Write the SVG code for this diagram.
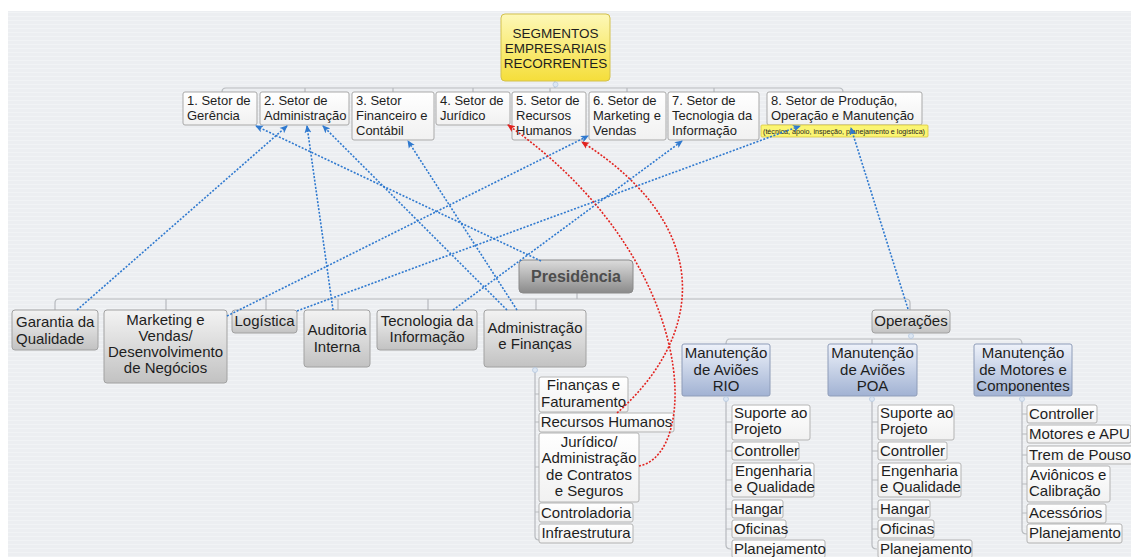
<svg xmlns="http://www.w3.org/2000/svg" width="1131" height="557" viewBox="0 0 1131 557">
  <defs>
    <pattern id="bgLines" width="8" height="4" patternUnits="userSpaceOnUse">
      <rect width="8" height="4" fill="#eceef1"/>
      <rect y="0" width="8" height="1" fill="#f1f3f5"/>
    </pattern>
    <linearGradient id="gYellow" x1="0" y1="0" x2="0" y2="1">
      <stop offset="0" stop-color="#fdf8b8"/>
      <stop offset="1" stop-color="#f5de3a"/>
    </linearGradient>
    <linearGradient id="gWhite" x1="0" y1="0" x2="0" y2="1">
      <stop offset="0" stop-color="#ffffff"/>
      <stop offset="1" stop-color="#f1f1f1"/>
    </linearGradient>
    <linearGradient id="gGray" x1="0" y1="0" x2="0" y2="1">
      <stop offset="0" stop-color="#f3f3f3"/>
      <stop offset="1" stop-color="#c2c2c2"/>
    </linearGradient>
    <linearGradient id="gDark" x1="0" y1="0" x2="0" y2="1">
      <stop offset="0" stop-color="#dcdcdc"/>
      <stop offset="1" stop-color="#8a8a8a"/>
    </linearGradient>
    <linearGradient id="gBlue" x1="0" y1="0" x2="0" y2="1">
      <stop offset="0" stop-color="#eef2fa"/>
      <stop offset="1" stop-color="#a1b2d3"/>
    </linearGradient>
    <marker id="arrBlue" viewBox="0 0 8 8" refX="7" refY="4" markerWidth="8" markerHeight="8" markerUnits="userSpaceOnUse" orient="auto">
      <path d="M0,0.5 L8,4 L0,7.5 L2,4 z" fill="#2f79cf"/>
    </marker>
    <marker id="arrRed" viewBox="0 0 8 8" refX="7" refY="4" markerWidth="8" markerHeight="8" markerUnits="userSpaceOnUse" orient="auto">
      <path d="M0,0.5 L8,4 L0,7.5 L2,4 z" fill="#e2231f"/>
    </marker>
    <style>
      .t { font-family: "Liberation Sans", Arial, sans-serif; fill: #1e1e1e; }
      .s13 { font-size: 13px; }
      .s15 { font-size: 15px; }
      .mid { text-anchor: middle; }
      .nTop { fill: url(#gWhite); stroke: #a9a9a9; stroke-width: 1; }
      .nGray { fill: url(#gGray); stroke: #a2a2a2; stroke-width: 1; }
      .nBlue { fill: url(#gBlue); stroke: #8e9cb8; stroke-width: 1; }
      .nLeaf { fill: url(#gWhite); stroke: #b3b3b3; stroke-width: 1; }
      .tree { fill: none; stroke: #b7babe; stroke-width: 1.2; }
      .knob { fill: #dde7f3; stroke: #b6c9df; stroke-width: 0.8; }
      .rel { fill: none; stroke-width: 1.6; stroke-dasharray: 2 1.6; }
      .blue { stroke: #2f79cf; marker-end: url(#arrBlue); }
      .red { stroke: #e2231f; marker-end: url(#arrRed); }
    </style>
  </defs>

  <!-- canvas -->
  <rect width="1131" height="557" fill="#ffffff"/>
  <rect x="8" y="11" width="1123" height="546" fill="url(#bgLines)"/>

  <!-- tree branches -->
  <g id="branches">
    <path class="tree" d="M555,81 V88 M226,88 H839 M222,92 Q222,88 226,88 M843,92 Q843,88 839,88 M305,88 V92 M393,88 V92 M473,88 V92 M550,88 V92 M627,88 V92 M714,88 V92"/>
    <path class="tree" d="M577,293 V299 M59,299 H906 M55,310 V303 Q55,299 59,299 M910,310 V303 Q910,299 906,299 M166,299 V310 M266,299 V310 M338,299 V310 M428,299 V310 M536,299 V310"/>
    <path class="tree" d="M911,333 V339 M730,339 H1018 M726,344 Q726,339 730,339 M1022,344 Q1022,339 1018,339 M872,339 V344"/>
    <path class="tree" d="M535,367 V536 Q535,540 539,540 M535,394 H539 M535,422 H539 M535,467 H539 M535,512 H539"/>
    <path class="tree" d="M726,396 V545 Q726,549 731,549 M726,422 H732 M726,451 H732 M726,480 H732 M726,509 H732 M726,529 H732"/>
    <path class="tree" d="M872,396 V545 Q872,549 877,549 M872,422 H878 M872,451 H878 M872,480 H878 M872,509 H878 M872,529 H878"/>
    <path class="tree" d="M1022,396 V530 Q1022,534 1027,534 M1022,414 H1027 M1022,434 H1027 M1022,455 H1027 M1022,484 H1027 M1022,513 H1027"/>
  </g>

  <!-- root -->
  <g id="root">
    <rect x="501" y="14" width="109" height="67" rx="4" fill="url(#gYellow)" stroke="#d3c14e" stroke-width="1"/>
    <text class="t mid" font-size="13.5" x="555.5" y="38">SEGMENTOS</text>
    <text class="t mid" font-size="13.5" x="555.5" y="53">EMPRESARIAIS</text>
    <text class="t mid" font-size="13.5" x="555.5" y="68">RECORRENTES</text>
  </g>

  <!-- sector row -->
  <g id="setor1"><rect class="nTop" x="183" y="92" width="74" height="33" rx="2"/>
    <text class="t s13" x="187" y="105">1. Setor de</text><text class="t s13" x="187" y="120">Gerência</text></g>
  <g id="setor2"><rect class="nTop" x="260" y="92" width="89" height="33" rx="2"/>
    <text class="t s13" x="264" y="105">2. Setor de</text><text class="t s13" x="264" y="120">Administração</text></g>
  <g id="setor3"><rect class="nTop" x="352" y="92" width="82" height="48" rx="2"/>
    <text class="t s13" x="356" y="105">3. Setor</text><text class="t s13" x="356" y="120">Financeiro e</text><text class="t s13" x="356" y="135">Contábil</text></g>
  <g id="setor4"><rect class="nTop" x="436" y="92" width="74" height="33" rx="2"/>
    <text class="t s13" x="440" y="105">4. Setor de</text><text class="t s13" x="440" y="120">Jurídico</text></g>
  <g id="setor5"><rect class="nTop" x="512" y="92" width="74" height="48" rx="2"/>
    <text class="t s13" x="516" y="105">5. Setor de</text><text class="t s13" x="516" y="120">Recursos</text><text class="t s13" x="516" y="135">Humanos</text></g>
  <g id="setor6"><rect class="nTop" x="589" y="92" width="77" height="48" rx="2"/>
    <text class="t s13" x="593" y="105">6. Setor de</text><text class="t s13" x="593" y="120">Marketing e</text><text class="t s13" x="593" y="135">Vendas</text></g>
  <g id="setor7"><rect class="nTop" x="668" y="92" width="91" height="48" rx="2"/>
    <text class="t s13" x="672" y="105">7. Setor de</text><text class="t s13" x="672" y="120">Tecnologia da</text><text class="t s13" x="672" y="135">Informação</text></g>
  <g id="setor8"><rect class="nTop" x="767" y="92" width="155" height="33" rx="2"/>
    <text class="t s13" x="771" y="105">8. Setor de Produção,</text><text class="t s13" x="771" y="120">Operação e Manutenção</text>
    <rect x="761" y="125" width="167" height="12" rx="1" fill="#fbf572" stroke="#d9c53c" stroke-width="0.8"/>
    <text class="t" font-size="7" x="763" y="134" textLength="162" lengthAdjust="spacingAndGlyphs" fill="#4a4a30">(técnica, apoio, inspeção, planejamento e logistica)</text></g>

  <!-- presidency -->
  <g id="presidencia">
    <rect x="519" y="260" width="114" height="33" rx="4" fill="url(#gDark)" stroke="#8a8a8a" stroke-width="1"/>
    <text class="t mid" x="576" y="282" font-size="16" font-weight="bold" fill="#4d4d4d" style="fill:#4d4d4d">Presidência</text>
  </g>

  <!-- second level -->
  <g id="garantia"><rect class="nGray" x="12" y="310" width="86" height="40" rx="3"/>
    <text class="t s15" x="16" y="327">Garantia da</text><text class="t s15" x="16" y="344">Qualidade</text></g>
  <g id="marketing"><rect class="nGray" x="104" y="310" width="123" height="73" rx="3"/>
    <text class="t s15 mid" x="165.5" y="325">Marketing e</text><text class="t s15 mid" x="165.5" y="341">Vendas/</text>
    <text class="t s15 mid" x="165.5" y="357">Desenvolvimento</text><text class="t s15 mid" x="165.5" y="373">de Negócios</text></g>
  <g id="logistica"><rect class="nGray" x="232" y="310" width="65" height="23" rx="3"/>
    <text class="t s15 mid" x="264.5" y="326">Logística</text></g>
  <g id="auditoria"><rect class="nGray" x="304" y="310" width="66" height="57" rx="3"/>
    <text class="t s15 mid" x="337" y="335">Auditoria</text><text class="t s15 mid" x="337" y="352">Interna</text></g>
  <g id="tecnologia"><rect class="nGray" x="377" y="310" width="100" height="40" rx="3"/>
    <text class="t s15 mid" x="427" y="326">Tecnologia da</text><text class="t s15 mid" x="427" y="342">Informação</text></g>
  <g id="admFin"><rect class="nGray" x="484" y="310" width="102" height="57" rx="3"/>
    <text class="t s15 mid" x="535" y="333">Administração</text><text class="t s15 mid" x="535" y="349">e Finanças</text></g>
  <g id="operacoes"><rect class="nGray" x="872" y="310" width="78" height="23" rx="3"/>
    <text class="t s15 mid" x="911" y="326">Operações</text></g>

  <!-- maintenance units -->
  <g id="manutRio"><rect class="nBlue" x="682" y="344" width="88" height="52" rx="2"/>
    <text class="t s15 mid" x="726" y="358">Manutenção</text><text class="t s15 mid" x="726" y="375">de Aviões</text><text class="t s15 mid" x="726" y="391">RIO</text></g>
  <g id="manutPoa"><rect class="nBlue" x="828" y="344" width="89" height="52" rx="2"/>
    <text class="t s15 mid" x="872.5" y="358">Manutenção</text><text class="t s15 mid" x="872.5" y="375">de Aviões</text><text class="t s15 mid" x="872.5" y="391">POA</text></g>
  <g id="manutMotores"><rect class="nBlue" x="974" y="344" width="98" height="52" rx="2"/>
    <text class="t s15 mid" x="1023" y="358">Manutenção</text><text class="t s15 mid" x="1023" y="375">de Motores e</text><text class="t s15 mid" x="1023" y="391">Componentes</text></g>

  <!-- collapse knobs -->
  <g id="knobs">
    <circle class="knob" cx="555.5" cy="84.5" r="2.5"/>
    <circle class="knob" cx="911" cy="336" r="2.5"/>
    <circle class="knob" cx="535" cy="370" r="2.5"/>
    <circle class="knob" cx="726" cy="399" r="2.5"/>
    <circle class="knob" cx="872" cy="399" r="2.5"/>
    <circle class="knob" cx="1022" cy="399" r="2.5"/>
  </g>

  <!-- administração e finanças children -->
  <g id="financas"><rect class="nLeaf" x="539" y="377" width="89" height="35" rx="2"/>
    <text class="t s15 mid" x="583.5" y="390">Finanças e</text><text class="t s15 mid" x="583.5" y="407">Faturamento</text></g>
  <g id="rh"><rect class="nLeaf" x="539" y="413" width="135" height="19" rx="2"/>
    <text class="t s15 mid" x="606.5" y="427">Recursos Humanos</text></g>
  <g id="juridico"><rect class="nLeaf" x="539" y="433" width="100" height="69" rx="2"/>
    <text class="t s15 mid" x="589" y="447">Jurídico/</text><text class="t s15 mid" x="589" y="463">Administração</text>
    <text class="t s15 mid" x="589" y="480">de Contratos</text><text class="t s15 mid" x="589" y="496">e Seguros</text></g>
  <g id="controladoria"><rect class="nLeaf" x="539" y="503" width="94" height="19" rx="2"/>
    <text class="t s15 mid" x="586" y="518">Controladoria</text></g>
  <g id="infra"><rect class="nLeaf" x="539" y="524" width="94" height="19" rx="2"/>
    <text class="t s15 mid" x="586" y="538">Infraestrutura</text></g>

  <!-- RIO children -->
  <g id="rioSuporte"><rect class="nLeaf" x="732" y="405" width="78" height="35" rx="2"/>
    <text class="t s15" x="734" y="418">Suporte ao</text><text class="t s15" x="734" y="434">Projeto</text></g>
  <g id="rioController"><rect class="nLeaf" x="732" y="442" width="67" height="18" rx="2"/>
    <text class="t s15" x="734" y="456">Controller</text></g>
  <g id="rioEngenharia"><rect class="nLeaf" x="732" y="463" width="82" height="34" rx="2"/>
    <text class="t s15" x="735" y="476">Engenharia</text><text class="t s15" x="734" y="492">e Qualidade</text></g>
  <g id="rioHangar"><rect class="nLeaf" x="732" y="500" width="51" height="18" rx="2"/>
    <text class="t s15" x="734" y="514">Hangar</text></g>
  <g id="rioOficinas"><rect class="nLeaf" x="732" y="520" width="54" height="18" rx="2"/>
    <text class="t s15" x="734" y="534">Oficinas</text></g>
  <g id="rioPlanejamento"><rect class="nLeaf" x="732" y="540" width="93" height="18" rx="2"/>
    <text class="t s15" x="734" y="554">Planejamento</text></g>

  <!-- POA children -->
  <g id="poaSuporte"><rect class="nLeaf" x="878" y="405" width="76" height="35" rx="2"/>
    <text class="t s15" x="880" y="418">Suporte ao</text><text class="t s15" x="880" y="434">Projeto</text></g>
  <g id="poaController"><rect class="nLeaf" x="878" y="442" width="69" height="18" rx="2"/>
    <text class="t s15" x="880" y="456">Controller</text></g>
  <g id="poaEngenharia"><rect class="nLeaf" x="878" y="463" width="83" height="34" rx="2"/>
    <text class="t s15" x="881" y="476">Engenharia</text><text class="t s15" x="880" y="492">e Qualidade</text></g>
  <g id="poaHangar"><rect class="nLeaf" x="878" y="500" width="52" height="18" rx="2"/>
    <text class="t s15" x="880" y="514">Hangar</text></g>
  <g id="poaOficinas"><rect class="nLeaf" x="878" y="520" width="56" height="18" rx="2"/>
    <text class="t s15" x="880" y="534">Oficinas</text></g>
  <g id="poaPlanejamento"><rect class="nLeaf" x="878" y="540" width="94" height="18" rx="2"/>
    <text class="t s15" x="880" y="554">Planejamento</text></g>

  <!-- engines and components children -->
  <g id="motController"><rect class="nLeaf" x="1027" y="405" width="70" height="18" rx="2"/>
    <text class="t s15" x="1029" y="419">Controller</text></g>
  <g id="motApu"><rect class="nLeaf" x="1027" y="425" width="104" height="18" rx="2"/>
    <text class="t s15" x="1029" y="439">Motores e APU</text></g>
  <g id="motTrem"><rect class="nLeaf" x="1027" y="446" width="106" height="18" rx="2"/>
    <text class="t s15" x="1029" y="460">Trem de Pouso</text></g>
  <g id="motAvionicos"><rect class="nLeaf" x="1027" y="466" width="83" height="36" rx="2"/>
    <text class="t s15" x="1030" y="480">Aviônicos e</text><text class="t s15" x="1029" y="496">Calibração</text></g>
  <g id="motAcessorios"><rect class="nLeaf" x="1027" y="504" width="79" height="19" rx="2"/>
    <text class="t s15" x="1029" y="518">Acessórios</text></g>
  <g id="motPlanejamento"><rect class="nLeaf" x="1027" y="524" width="95" height="19" rx="2"/>
    <text class="t s15" x="1029" y="538">Planejamento</text></g>

  <!-- relationship connectors -->
  <g id="relations">
    <path class="rel blue" d="M541,261 L256,126"/>
    <path class="rel blue" d="M77,310 L287,126"/>
    <path class="rel blue" d="M333,310 L307,126"/>
    <path class="rel blue" d="M507,310 L323,126"/>
    <path class="rel blue" d="M517,310 L408,141"/>
    <path class="rel blue" d="M227,316 L588,136"/>
    <path class="rel blue" d="M453,310 L682,141"/>
    <path class="rel blue" d="M297,311 L800,126"/>
    <path class="rel blue" d="M908,309 L851,128"/>
    <path class="rel red" d="M617,413 C700,340 720,230 582,142"/>
    <path class="rel red" d="M639,466 C700,455 700,260 508,125"/>
  </g>
</svg>
